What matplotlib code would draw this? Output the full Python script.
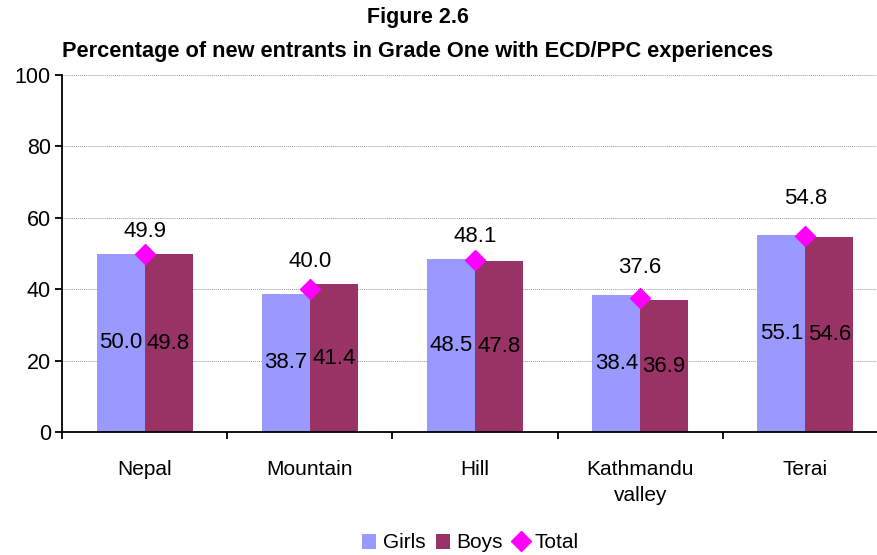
import matplotlib.pyplot as plt
import numpy as np

plt.rcParams['font.family'] = ['Liberation Sans', 'DejaVu Sans']

categories = ['Nepal', 'Mountain', 'Hill', 'Kathmandu\nvalley', 'Terai']
girls = [50.0, 38.7, 48.5, 38.4, 55.1]
boys = [49.8, 41.4, 47.8, 36.9, 54.6]
total = [49.9, 40.0, 48.1, 37.6, 54.8]
yticks = [0, 20, 40, 60, 80, 100]

# vertical shift of the total labels, in points
total_label_dy = [16, 20, 17, 22, 27]

fig = plt.figure(figsize=(8.78, 5.55), dpi=100)
ax = fig.add_axes([62 / 878, 123 / 555, 826 / 878, 357 / 555])

x = np.arange(len(categories))
w = 0.29
b1 = ax.bar(x - w / 2, girls, w, color='#9999FF', label='Girls', zorder=2)
b2 = ax.bar(x + w / 2, boys, w, color='#993366', label='Boys', zorder=2)
tot, = ax.plot(x, total, linestyle='none', marker='D', markersize=10,
               color='#FF00FF', label='Total', zorder=3)

for xi, v in zip(x - w / 2, girls):
    ax.text(xi, v / 2, f'{v:.1f}', ha='center', va='center', fontsize=16, zorder=4)
for xi, v in zip(x + w / 2, boys):
    ax.text(xi, v / 2, f'{v:.1f}', ha='center', va='center', fontsize=16, zorder=4)
for xi, v, dy in zip(x, total, total_label_dy):
    ax.annotate(f'{v:.1f}', (xi, v), xytext=(0, dy), textcoords='offset points',
                ha='center', va='center', fontsize=16, zorder=4)

ax.set_xlim(-0.5, len(categories) - 0.5)
ax.set_ylim(0, 100)
ax.set_yticks(yticks)
ax.grid(axis='y', color='#999999', linestyle=(0, (1, 1)), linewidth=0.7, zorder=1)

ax.set_xticks(x)
ax.set_xticklabels(categories, fontsize=15, linespacing=1.45)
ax.set_xticks(np.arange(len(categories) + 1) - 0.5, minor=True)
ax.tick_params(axis='x', which='major', length=0, pad=20)
ax.tick_params(axis='x', which='minor', length=5, width=1.3, direction='out')
ax.tick_params(axis='y', labelsize=15.5, length=5, width=1.3, direction='out', pad=3)

for s in ['top', 'right']:
    ax.spines[s].set_visible(False)
for s in ['left', 'bottom']:
    ax.spines[s].set_linewidth(1.3)

fig.text(418 / 878, 1 - 18 / 555, 'Figure 2.6', ha='center', va='center',
         fontsize=15.5, fontweight='bold')
fig.text(418 / 878, 1 - 52 / 555,
         'Percentage of new entrants in Grade One with ECD/PPC experiences',
         ha='center', va='center', fontsize=15.7, fontweight='bold')

fig.legend(handles=[b1, b2, tot], loc='center',
           bbox_to_anchor=(470 / 878, 1 - 543 / 555), ncol=3,
           frameon=False, fontsize=15, handlelength=0.7, handleheight=0.7,
           handletextpad=0.3, columnspacing=0.5, borderaxespad=0)

fig.savefig('out.png', dpi=100)
